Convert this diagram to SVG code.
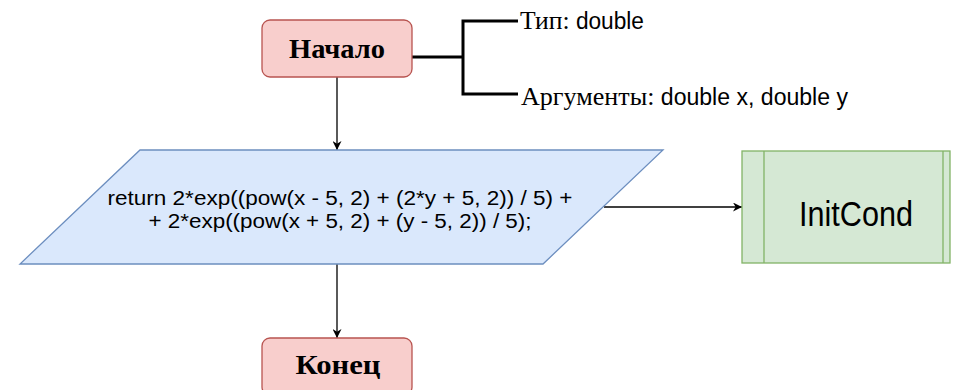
<svg xmlns="http://www.w3.org/2000/svg" width="955" height="390" viewBox="0 0 955 390">
<defs>
<marker id="arr" viewBox="0 0 10 10" refX="10" refY="5" markerWidth="9" markerHeight="9" markerUnits="userSpaceOnUse" orient="auto"><path d="M0,0 L10,5 L0,10 L3,5 Z" fill="#000"/></marker>
<style>
.term{fill:#f8cecc;stroke:#b85450;stroke-width:1.3}
.io{fill:#dae8fc;stroke:#6c8ebf;stroke-width:1.3}
.proc{fill:#d5e8d4;stroke:#82b366;stroke-width:1.3}
.conn{fill:none;stroke:#000;stroke-width:1.3}
.brk{fill:none;stroke:#000;stroke-width:3}
.bold{font-family:"Liberation Serif",serif;font-weight:bold;font-size:27px;fill:#000}
.sans{font-family:"Liberation Sans",Arial,sans-serif;fill:#000}
.ser{font-family:"Liberation Serif",serif;font-size:26px}
</style>
</defs>
<g id="connectors">
<path class="conn" d="M337,77 L337,150" marker-end="url(#arr)"/>
<path class="conn" d="M604,207 L742,207" marker-end="url(#arr)"/>
<path class="conn" d="M337,264 L337,338" marker-end="url(#arr)"/>
<path class="brk" d="M412,57 L463,57 M518,21 L463,21 L463,94 L518,94"/>
</g>
<g id="start">
<rect class="term" x="262" y="20" width="150" height="57" rx="8"/>
<text class="bold" x="337" y="58" text-anchor="middle" textLength="96" lengthAdjust="spacingAndGlyphs">Начало</text>
</g>
<g id="annotation">
<text class="sans" x="520" y="29" font-size="23" textLength="124" lengthAdjust="spacingAndGlyphs"><tspan class="ser">Тип:</tspan> double</text>
<text class="sans" x="521" y="105" font-size="23" textLength="327" lengthAdjust="spacingAndGlyphs"><tspan class="ser">Аргументы:</tspan> double x, double y</text>
</g>
<g id="calc">
<path class="io" d="M140,150 L663,150 L543,264 L20,264 Z"/>
<text class="sans" font-size="20" text-anchor="middle" x="340" y="205" textLength="465" lengthAdjust="spacingAndGlyphs">return 2*exp((pow(x - 5, 2) + (2*y + 5, 2)) / 5) +</text>
<text class="sans" font-size="20" text-anchor="middle" x="340" y="228" textLength="383" lengthAdjust="spacingAndGlyphs">+ 2*exp((pow(x + 5, 2) + (y - 5, 2)) / 5);</text>
</g>
<g id="initcond">
<rect class="proc" x="742" y="151" width="208" height="112"/>
<line class="proc" x1="764" y1="151" x2="764" y2="263"/>
<line class="proc" x1="943" y1="151" x2="943" y2="263"/>
<text class="sans" x="856" y="226" font-size="35" text-anchor="middle" textLength="114" lengthAdjust="spacingAndGlyphs">InitCond</text>
</g>
<g id="end">
<rect class="term" x="262" y="338" width="150" height="57" rx="8"/>
<text class="bold" x="338" y="374" text-anchor="middle" textLength="85" lengthAdjust="spacingAndGlyphs">Конец</text>
</g>
</svg>
